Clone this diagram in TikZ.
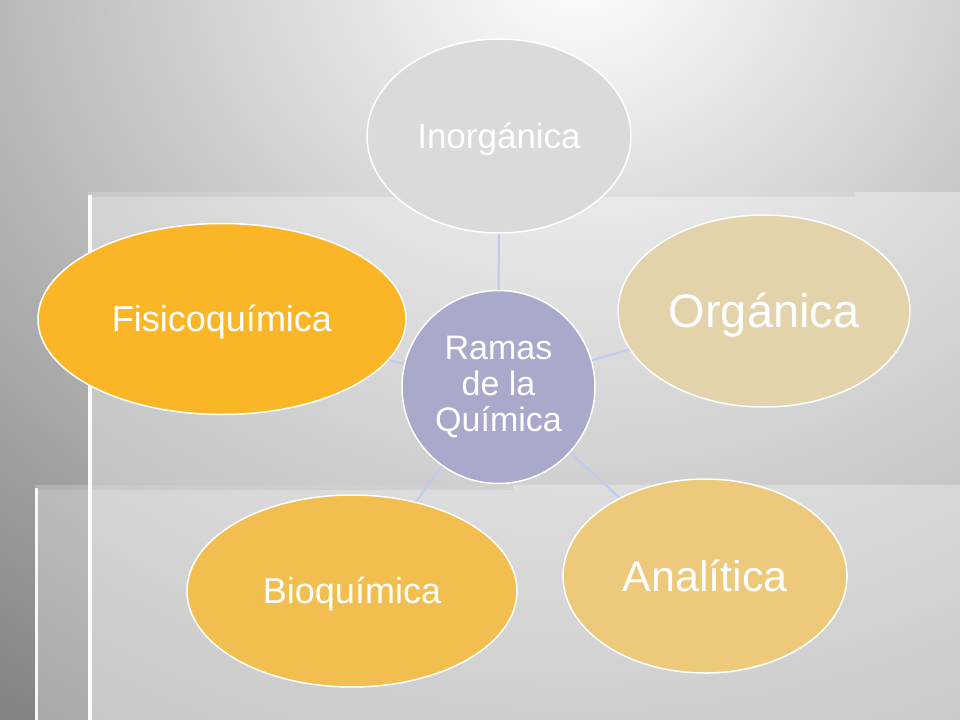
\documentclass[tikz,border=0pt]{standalone}
\usepackage{fontspec}
\setmainfont{Liberation Sans}
\usetikzlibrary{shapes.geometric}
\definecolor{bgdark}{HTML}{686868}
\definecolor{inorgfill}{HTML}{DADADA}
\definecolor{orgfill}{HTML}{E3D3AB}
\definecolor{analfill}{HTML}{ECC97B}
\definecolor{biofill}{HTML}{F2BE4F}
\definecolor{fisfill}{HTML}{FBB627}
\definecolor{centerfill}{HTML}{A8A9CB}
\definecolor{linkblue}{HTML}{C0CAF2}
\begin{document}
\begin{tikzpicture}[x=1bp,y=-1bp,
  branch/.style={ellipse,draw=white,line width=1.5bp,text=white,inner sep=0pt,
                 text depth=0pt},
  hub/.style={circle,draw=white,line width=1.5bp,text=white,inner sep=0pt,
              fill=centerfill,minimum size=193bp,align=center,
              font=\fontsize{34bp}{36bp}\selectfont},
  link/.style={draw=linkblue,line width=2bp}]
\useasboundingbox (0,0) rectangle (960,720);
% background
\begin{scope}
  \clip (0,0) rectangle (960,720);
  \shade[inner color=white,outer color=bgdark] (580,-40) ellipse [x radius=1250, y radius=1100];
\end{scope}
% panels
\fill[white,opacity=0.35] (88,192) rectangle (960,720);
\fill[white,opacity=0.3] (35,485) rectangle (960,720);
\fill[black,opacity=0.05] (88,192) rectangle (855,197);
\fill[black,opacity=0.05] (35,485) rectangle (513,490);
\fill[white,opacity=0.95] (88,195) rectangle (92,720);
\fill[white,opacity=0.9] (35,488) rectangle (38,720);
% nodes
\node[hub] (hub) at (498.5,387) {Ramas\\de la\\Química};
\node[branch,fill=inorgfill,minimum width=264bp,minimum height=194bp,text height=25bp,
      font=\fontsize{35bp}{40bp}\selectfont] (inorg) at (499,136) {Inorgánica};
\node[branch,fill=orgfill,minimum width=292bp,minimum height=192bp,text height=33.7bp,
      font=\fontsize{47bp}{52bp}\selectfont] (org) at (764,311) {Orgánica};
\node[branch,fill=analfill,minimum width=284bp,minimum height=194bp,text height=30.8bp,
      font=\fontsize{43bp}{48bp}\selectfont] (anal) at (705,576) {Analítica};
\node[branch,fill=biofill,minimum width=330bp,minimum height=192bp,text height=25.8bp,
      font=\fontsize{36bp}{40bp}\selectfont] (bio) at (352,591) {Bioquímica};
\node[branch,fill=fisfill,minimum width=368bp,minimum height=191bp,text height=25.8bp,
      font=\fontsize{36bp}{40bp}\selectfont] (fis) at (222,319) {Fisicoquímica};
% connectors
\draw[link] (hub) -- (inorg);
\draw[link] (hub) -- (org);
\draw[link] (hub) -- (anal);
\draw[link] (hub) -- (bio);
\draw[link] (hub) -- (fis);
\end{tikzpicture}
\end{document}
